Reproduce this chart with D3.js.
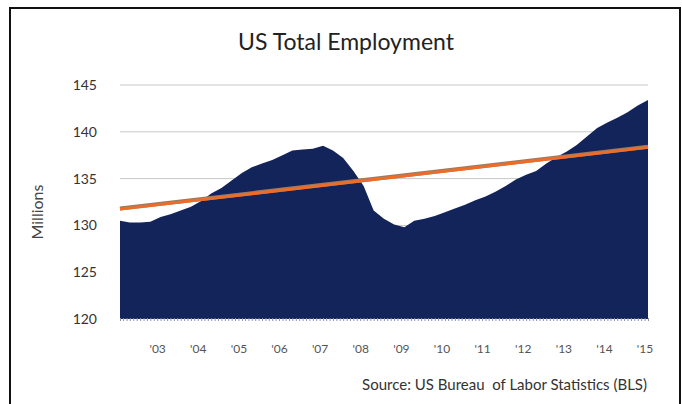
<!DOCTYPE html>
<html>
<head>
<meta charset="utf-8">
<script src="https://cdn.jsdelivr.net/npm/d3@7"></script>
<style>
  html, body { margin: 0; padding: 0; background: #fff; }
  svg { display: block; font-family: Lato, "Open Sans", sans-serif; }
</style>
</head>
<body>
<svg id="chart" width="682" height="404"></svg>
<script>
// Quarterly total employment, millions (Feb 2002 – Feb 2015)
const startMonth = "2002-02";
const employment = [
  130.5, 130.3, 130.3, 130.4, 130.9, 131.2, 131.6, 132.0, 132.6, 133.4,
  134.0, 134.8, 135.6, 136.2, 136.6, 137.0, 137.5, 138.0, 138.1, 138.2,
  138.5, 138.0, 137.2, 135.8, 134.2, 131.6, 130.7, 130.1, 129.8, 130.5,
  130.7, 131.0, 131.4, 131.8, 132.2, 132.7, 133.1, 133.6, 134.2, 134.9,
  135.4, 135.8, 136.6, 137.3, 137.9, 138.6, 139.5, 140.4, 141.0, 141.5,
  142.1, 142.8, 143.4
];
// Linear trend, value at first and last month
const trend = [131.8, 138.4];
const yTicks = [120, 125, 130, 135, 140, 145];
const yearLabels = ["'03", "'04", "'05", "'06", "'07", "'08", "'09", "'10", "'11", "'12", "'13", "'14", "'15"];

const parseMonth = d3.timeParse("%Y-%m");
const t0 = parseMonth(startMonth);
const series = employment.map((v, i) => ({ date: d3.timeMonth.offset(t0, i * 3), value: v }));
const tEnd = series[series.length - 1].date;

const svg = d3.select("#chart");

// frame
svg.append("rect")
  .attr("x", 10).attr("y", 8).attr("width", 670).attr("height", 420)
  .attr("fill", "none").attr("stroke", "#111").attr("stroke-width", 2);

const x = d3.scaleTime().domain([t0, tEnd]).range([120, 648]);
const y = d3.scaleLinear().domain([120, 145]).range([319, 85]);

// gridlines
svg.append("g").selectAll("line")
  .data(yTicks.filter(v => v > 120))
  .join("line")
  .attr("x1", 120).attr("x2", 648)
  .attr("y1", d => y(d)).attr("y2", d => y(d))
  .attr("stroke", "#c8c8c8").attr("stroke-width", 1);

// employment area
const area = d3.area()
  .x(d => x(d.date))
  .y0(y(120))
  .y1(d => y(d.value));
svg.append("path")
  .datum(series)
  .attr("d", area)
  .attr("fill", "#13245a");

// trend line
const trendPts = [{ date: t0, value: trend[0] }, { date: tEnd, value: trend[1] }];
const line = d3.line().x(d => x(d.date)).y(d => y(d.value));
svg.append("path")
  .datum(trendPts)
  .attr("d", line)
  .attr("fill", "none")
  .attr("stroke", "#9a7a62")
  .attr("stroke-width", 4);
svg.append("path")
  .datum(trendPts)
  .attr("d", line)
  .attr("transform", "translate(0,0.6)")
  .attr("fill", "none")
  .attr("stroke", "#ee6c27")
  .attr("stroke-width", 2.8);

// monthly minor ticks along the baseline
const monthAxis = d3.axisBottom(x)
  .ticks(d3.timeMonth.every(1))
  .tickSize(3)
  .tickFormat("");
const gm = svg.append("g").attr("transform", `translate(0,${y(120) - 1})`).call(monthAxis);
gm.select(".domain").remove();
gm.selectAll(".tick line").attr("stroke", "#8b93ab").attr("stroke-width", 1);

// year labels
const years = d3.range(2003, 2016).map(yr => new Date(yr, 0, 1));
const yearAxis = d3.axisBottom(x)
  .tickValues(years)
  .tickSize(0)
  .tickPadding(25)
  .tickFormat((d, i) => yearLabels[i]);
const gx = svg.append("g").attr("transform", `translate(0,${y(120)})`).call(yearAxis);
gx.select(".domain").remove();
gx.selectAll("text")
  .attr("font-family", "Lato, sans-serif")
  .attr("font-size", 12)
  .attr("fill", "#555");

// y axis labels
const yAxis = d3.axisLeft(y).tickValues(yTicks).tickSize(0).tickPadding(23);
const gy = svg.append("g").attr("transform", "translate(120,0)").call(yAxis);
gy.select(".domain").remove();
gy.selectAll("text")
  .attr("font-family", "Lato, sans-serif")
  .attr("font-size", 14)
  .attr("fill", "#333");

// y axis title
svg.append("text")
  .attr("transform", "translate(43,212) rotate(-90)")
  .attr("text-anchor", "middle")
  .attr("font-size", 16)
  .attr("fill", "#444")
  .text("Millions");

// chart title
svg.append("text")
  .attr("x", 346).attr("y", 50)
  .attr("text-anchor", "middle")
  .attr("font-size", 23)
  .attr("fill", "#222")
  .text("US Total Employment");

// source note
svg.append("text")
  .attr("x", 647).attr("y", 390)
  .attr("text-anchor", "end")
  .attr("font-size", 15)
  .attr("fill", "#333")
  .style("white-space", "pre")
  .text("Source: US Bureau  of Labor Statistics (BLS)");
</script>
</body>
</html>
